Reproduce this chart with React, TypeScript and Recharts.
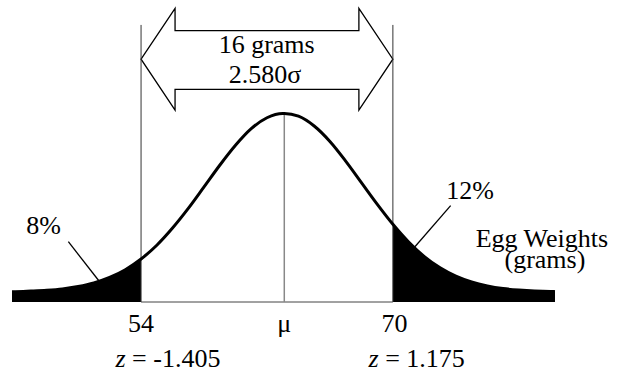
import React from "react";
import {
  ComposedChart,
  Line,
  Area,
  XAxis,
  YAxis,
  ReferenceLine,
  ReferenceDot,
  ReferenceArea,
} from "recharts";

// Egg weight (grams) sampled along the curve
const weights = [
  45.8, 46, 47, 48, 49, 50, 51, 52, 53, 54, 55, 56, 57, 58, 59, 60, 61, 62, 63,
  63.1, 64, 65, 66, 67, 68, 69, 70, 71, 72, 73, 74, 75, 76, 77, 78, 79, 80, 80.3,
];
// Curve height (relative frequency, peak = 100)
const heights = [
  5.5, 5.5, 5.8, 6.2, 6.9, 8.2, 10.1, 13.0, 17.1, 22.8, 30.1, 39.2, 49.6, 61.0,
  72.5, 83.1, 91.9, 97.7, 100.0, 100.0, 98.5, 93.3, 85.1, 74.7, 63.3, 51.9, 41.2,
  31.8, 24.1, 18.1, 13.7, 10.6, 8.5, 7.1, 6.3, 5.8, 5.6, 5.5,
];

const lowerCut = 54;
const upperCut = 70;
const meanWeight = 63.1;
const lowerZ = "-1.405";
const upperZ = "1.175";
const lowerPct = "8%";
const upperPct = "12%";
const spanGrams = "16 grams";
const spanSigma = "2.580σ";

const data = weights.map((w, i) => ({
  w,
  curve: heights[i],
  left: w <= lowerCut ? heights[i] : null,
  right: w >= upperCut ? heights[i] : null,
}));

const textShape =
  (content: React.ReactNode, size = 26) =>
  (p: any) => (
    <text
      x={p.cx}
      y={p.cy}
      textAnchor="middle"
      fontFamily="Liberation Serif"
      fontSize={size}
      fill="#000"
    >
      {content}
    </text>
  );

const arrowShape = (p: any) => {
  const { x, y, width, height } = p;
  const hw = width * 0.135;
  const st = y + height * 0.22;
  const sb = y + height * 0.797;
  const my = y + height * 0.5;
  const d = [
    `M${x},${my}`,
    `L${x + hw},${y}`,
    `L${x + hw},${st}`,
    `L${x + width - hw},${st}`,
    `L${x + width - hw},${y}`,
    `L${x + width},${my}`,
    `L${x + width - hw},${y + height}`,
    `L${x + width - hw},${sb}`,
    `L${x + hw},${sb}`,
    `L${x + hw},${y + height}`,
    "Z",
  ].join(" ");
  return <path d={d} fill="#fff" stroke="#000" strokeWidth={1.3} />;
};

const label = (x: number, y: number, content: React.ReactNode, key: string) => (
  <ReferenceDot
    key={key}
    x={x}
    y={y}
    r={0}
    ifOverflow="visible"
    shape={textShape(content)}
  />
);

export default function App() {
  return (
    <div style={{ position: "absolute", left: 0, top: 0 }}>
      <ComposedChart
        width={628}
        height={372}
        data={data}
        margin={{ top: 4, right: 73, bottom: 70, left: 12 }}
      >
        <XAxis dataKey="w" type="number" domain={[45.8, 80.3]} hide />
        <YAxis type="number" domain={[0, 158]} hide />

        <Area
          dataKey="left"
          type="monotone"
          fill="#000"
          fillOpacity={1}
          stroke="none"
          isAnimationActive={false}
          baseValue={0}
        />
        <Area
          dataKey="right"
          type="monotone"
          fill="#000"
          fillOpacity={1}
          stroke="none"
          isAnimationActive={false}
          baseValue={0}
        />

        <ReferenceLine
          segment={[{ x: lowerCut, y: 0 }, { x: upperCut, y: 0 }]}
          stroke="#444"
          strokeWidth={1}
          ifOverflow="visible"
        />
        <ReferenceLine
          segment={[{ x: lowerCut, y: 0 }, { x: lowerCut, y: 146.9 }]}
          stroke="#333"
          strokeWidth={1}
          ifOverflow="visible"
        />
        <ReferenceLine
          segment={[{ x: upperCut, y: 0 }, { x: upperCut, y: 146.9 }]}
          stroke="#333"
          strokeWidth={1}
          ifOverflow="visible"
        />
        <ReferenceLine
          segment={[{ x: meanWeight, y: 0 }, { x: meanWeight, y: 100 }]}
          stroke="#888"
          strokeWidth={1.5}
          ifOverflow="visible"
        />

        <Line
          dataKey="curve"
          type="monotone"
          stroke="#000"
          strokeWidth={3}
          dot={false}
          isAnimationActive={false}
        />

        <ReferenceArea
          x1={lowerCut}
          x2={upperCut}
          y1={101.8}
          y2={155.7}
          ifOverflow="visible"
          shape={arrowShape}
        />

        <ReferenceLine
          segment={[{ x: 49.38, y: 31.97 }, { x: 51.33, y: 11.13 }]}
          stroke="#000"
          strokeWidth={1.3}
          ifOverflow="visible"
        />
        <ReferenceLine
          segment={[{ x: 73.67, y: 51.06 }, { x: 71.4, y: 29.3 }]}
          stroke="#000"
          strokeWidth={1.3}
          ifOverflow="visible"
        />

        {label(61.98, 131.9, spanGrams, "g")}
        {label(61.87, 116.0, spanSigma, "s")}
        {label(lowerCut, -15.75, String(lowerCut), "l")}
        {label(meanWeight, -15.75, "μ", "m")}
        {label(70.1, -15.75, String(upperCut), "u")}
        {label(
          55.71,
          -34.3,
          <>
            <tspan fontStyle="italic">z</tspan> = {lowerZ}
          </>,
          "zl"
        )}
        {label(
          71.51,
          -34.3,
          <>
            <tspan fontStyle="italic">z</tspan> = {upperZ}
          </>,
          "zu"
        )}
        {label(47.8, 35.9, lowerPct, "p1")}
        {label(74.9, 54.45, upperPct, "p2")}
        {label(79.47, 29.0, "Egg Weights", "e1")}
        {label(79.66, 17.9, "(grams)", "e2")}
      </ComposedChart>
    </div>
  );
}
